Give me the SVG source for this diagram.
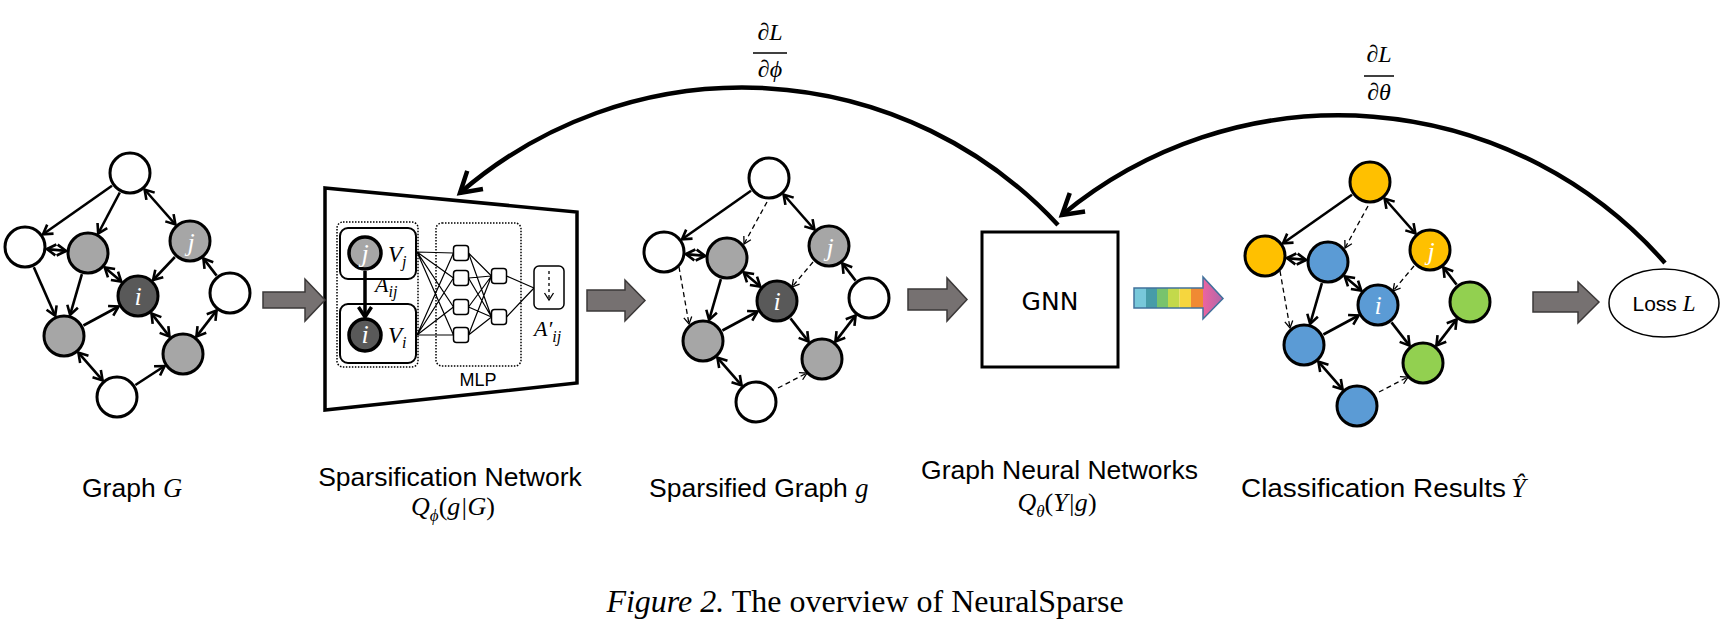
<svg xmlns="http://www.w3.org/2000/svg" width="1731" height="631" viewBox="0 0 1731 631">
<defs>
<style>
.n{stroke:#000;stroke-width:3}
.w{fill:#fff}.g{fill:#a6a6a6}.k{fill:#595959}.y{fill:#ffc000}.b{fill:#5b9bd5}.gr{fill:#92d050}
.e{stroke:#000;stroke-width:2.6;fill:none;marker-end:url(#ah)}
.e2{stroke:#000;stroke-width:2.6;fill:none;marker-start:url(#ah);marker-end:url(#ah)}
.d{stroke:#000;stroke-width:1.3;fill:none;stroke-dasharray:5 3.5;marker-end:url(#ahd)}
.lbl{font-family:"Liberation Serif","DejaVu Serif",serif;font-style:italic;fill:#fff;font-size:26px;text-anchor:middle}
.mi{font-family:"Liberation Serif","DejaVu Serif",serif;font-style:italic}
.sans{font-family:"Liberation Sans",Arial,sans-serif}
.ba{fill:#767171;stroke:#3b3838;stroke-width:1.5}
.ml{stroke:#000;stroke-width:1.2;fill:none}
.sq{fill:#fff;stroke:#000;stroke-width:1.5}
</style>
<marker id="ah" markerUnits="userSpaceOnUse" viewBox="-13 -9 16 18" markerWidth="16" markerHeight="18" refX="0" refY="0" orient="auto-start-reverse">
<path d="M-9,-5.5 L0,0 L-9,5.5" fill="none" stroke="#000" stroke-width="2.6"/>
</marker>
<marker id="ahd" markerUnits="userSpaceOnUse" viewBox="-10 -7 12 14" markerWidth="12" markerHeight="14" refX="0" refY="0" orient="auto">
<path d="M-7,-4 L0,0 L-7,4" fill="none" stroke="#000" stroke-width="1.3"/>
</marker>
<marker id="ahb" markerUnits="userSpaceOnUse" viewBox="-26 -17 31 34" markerWidth="31" markerHeight="34" refX="0" refY="0" orient="auto">
<path d="M-20,-12 L0,0 L-20,12" fill="none" stroke="#000" stroke-width="4.5"/>
</marker>
<marker id="ahs" markerUnits="userSpaceOnUse" viewBox="-10 -7 12 14" markerWidth="12" markerHeight="14" refX="0" refY="0" orient="auto">
<path d="M-7,-4.5 L0,0 L-7,4.5" fill="none" stroke="#000" stroke-width="1.3"/>
</marker>
<marker id="ahm" markerUnits="userSpaceOnUse" viewBox="-14 -9 17 18" markerWidth="17" markerHeight="18" refX="0" refY="0" orient="auto">
<path d="M-10,-6.5 L0,0 L-10,6.5" fill="none" stroke="#000" stroke-width="3.5"/>
</marker>
<linearGradient id="headGrad" x1="0" y1="0" x2="1" y2="0">
<stop offset="0" stop-color="#ec64a0"/><stop offset="1" stop-color="#b066aa"/>
</linearGradient>
</defs>
<rect width="1731" height="631" fill="#fff"/>

<!-- ===== Graph G ===== -->
<g id="graphG">
<g id="G-edges">
<path class="e" d="M112,185.7 L43,234.3"/>
<path class="e" d="M119.8,192.5 L98.2,233.5"/>
<path class="e2" d="M144.6,189.5 L175.4,224.5"/>
<path class="e2" d="M46.9,249.1 L66.1,250.9"/>
<path class="e" d="M33.8,267.2 L55.2,315.8"/>
<path class="e" d="M81.9,274.1 L70.1,314.9"/>
<path class="e2" d="M104.7,267.4 L121.3,281.6"/>
<path class="e" d="M174.9,257 L153.1,280"/>
<path class="e" d="M216.6,275.6 L203.4,258.4"/>
<path class="e2" d="M216.6,310.4 L196.4,336.6"/>
<path class="e2" d="M151.5,313.4 L169.5,336.6"/>
<path class="e" d="M83.4,325.5 L118.6,306.5"/>
<path class="e2" d="M78.4,352.6 L102.6,380.4"/>
<path class="e" d="M135.4,385 L164.6,366"/>
</g>
<g id="G-top"><circle class="n w" cx="130" cy="173" r="20"/></g>
<g id="G-left"><circle class="n w" cx="25" cy="247" r="20"/></g>
<g id="G-ul"><circle class="n g" cx="88" cy="253" r="20"/></g>
<g id="G-j"><circle class="n g" cx="190" cy="241" r="20"/><text class="lbl" x="191" y="251">j</text></g>
<g id="G-i"><circle class="n k" cx="138" cy="296" r="20"/><text class="lbl" x="138" y="305">i</text></g>
<g id="G-right"><circle class="n w" cx="230" cy="293" r="20"/></g>
<g id="G-ll"><circle class="n g" cx="64" cy="336" r="20"/></g>
<g id="G-lr"><circle class="n g" cx="183" cy="354" r="20"/></g>
<g id="G-bottom"><circle class="n w" cx="117" cy="397" r="20"/></g>
</g>

<!-- ===== Sparsification network ===== -->
<g id="sparsifier">
<polygon points="325,188 577,212 577,383 325,410" fill="#fff" stroke="#000" stroke-width="3.5"/>
<rect x="337" y="222" width="81" height="145" rx="6" fill="none" stroke="#000" stroke-width="1.5" stroke-dasharray="1.5 1.5"/>
<rect x="436" y="223" width="85" height="143" rx="6" fill="none" stroke="#000" stroke-width="1.5" stroke-dasharray="1.5 1.5"/>
<g id="S-vj">
<rect x="340" y="228" width="76" height="51" rx="8" fill="#fff" stroke="#000" stroke-width="2"/>
<circle cx="365" cy="253" r="16" fill="#a6a6a6" stroke="#000" stroke-width="3.5"/>
<text class="lbl" x="365" y="262" font-size="24">j</text>
<text class="mi" x="388" y="262" font-size="23">V<tspan font-size="16" dy="5">j</tspan></text>
</g>
<g id="S-vi">
<rect x="340" y="304" width="76" height="59" rx="8" fill="#fff" stroke="#000" stroke-width="2"/>
<circle cx="365" cy="335" r="16" fill="#595959" stroke="#000" stroke-width="3.5"/>
<text class="lbl" x="365" y="343" font-size="24">i</text>
<text class="mi" x="388" y="343" font-size="23">V<tspan font-size="16" dy="5">i</tspan></text>
</g>
<path d="M365,271 L365,317" stroke="#000" stroke-width="3.5" fill="none" marker-end="url(#ahm)"/>
<text class="mi" x="375" y="292" font-size="22">A<tspan font-size="16" dy="5">ij</tspan></text>
<g id="S-mlp-lines">
<path class="ml" d="M417,252 L453.5,253 M417,252 L453.5,278 M417,252 L453.5,307 M417,252 L453.5,335 M417,335 L453.5,253 M417,335 L453.5,278 M417,335 L453.5,307 M417,335 L453.5,335"/>
<path class="ml" d="M468.5,253 L491.5,276 M468.5,253 L491.5,317 M468.5,278 L491.5,276 M468.5,278 L491.5,317 M468.5,307 L491.5,276 M468.5,307 L491.5,317 M468.5,335 L491.5,276 M468.5,335 L491.5,317"/>
<path class="ml" d="M506.5,276 L534,288 M506.5,317 L534,288"/>
</g>
<g id="S-mlp-units">
<rect class="sq" x="453.5" y="245.5" width="15" height="15" rx="3"/>
<rect class="sq" x="453.5" y="270.5" width="15" height="15" rx="3"/>
<rect class="sq" x="453.5" y="299.5" width="15" height="15" rx="3"/>
<rect class="sq" x="453.5" y="327.5" width="15" height="15" rx="3"/>
<rect class="sq" x="491.5" y="268.5" width="15" height="15" rx="3"/>
<rect class="sq" x="491.5" y="309.5" width="15" height="15" rx="3"/>
</g>
<g id="S-out">
<rect x="534" y="266" width="30" height="43" rx="5" fill="#fff" stroke="#000" stroke-width="1.5"/>
<path d="M549,271 L549,300" stroke="#000" stroke-width="1.3" stroke-dasharray="3 3" fill="none" marker-end="url(#ahs)"/>
</g>
<text class="mi" x="534" y="336" font-size="22">A′<tspan font-size="16" dy="6">ij</tspan></text>
<text class="sans" x="478" y="386" font-size="18" text-anchor="middle">MLP</text>
</g>

<!-- ===== Sparsified graph ===== -->
<g id="graphS" transform="translate(639,5)">
<g id="S2-edges">
<path class="e" d="M112,185.7 L43,234.3"/>
<path class="d" d="M128,197 L105,239"/>
<path class="e2" d="M144.6,189.5 L175.4,224.5"/>
<path class="e2" d="M46.9,249.1 L66.1,250.9"/>
<path class="d" d="M40,262 L50,319"/>
<path class="e" d="M81.9,274.1 L70.1,314.9"/>
<path class="e2" d="M104.7,267.4 L121.3,281.6"/>
<path class="d" d="M174,257 L153,282"/>
<path class="e" d="M216.6,275.6 L203.4,258.4"/>
<path class="e2" d="M216.6,310.4 L196.4,336.6"/>
<path class="e" d="M151.5,313.4 L169.5,336.6"/>
<path class="e" d="M83.4,325.5 L118.6,306.5"/>
<path class="e2" d="M78.4,352.6 L102.6,380.4"/>
<path class="d" d="M139,383 L168,368"/>
</g>
<g id="S2-top"><circle class="n w" cx="130" cy="173" r="20"/></g>
<g id="S2-left"><circle class="n w" cx="25" cy="247" r="20"/></g>
<g id="S2-ul"><circle class="n g" cx="88" cy="253" r="20"/></g>
<g id="S2-j"><circle class="n g" cx="190" cy="241" r="20"/><text class="lbl" x="191" y="251">j</text></g>
<g id="S2-i"><circle class="n k" cx="138" cy="296" r="20"/><text class="lbl" x="138" y="305">i</text></g>
<g id="S2-right"><circle class="n w" cx="230" cy="293" r="20"/></g>
<g id="S2-ll"><circle class="n g" cx="64" cy="336" r="20"/></g>
<g id="S2-lr"><circle class="n g" cx="183" cy="354" r="20"/></g>
<g id="S2-bottom"><circle class="n w" cx="117" cy="397" r="20"/></g>
</g>

<!-- ===== GNN ===== -->
<g id="gnn">
<rect x="982" y="232" width="136" height="135" fill="#fff" stroke="#000" stroke-width="3"/>
<text x="1050" y="310" font-family="DejaVu Sans,sans-serif" font-size="25" text-anchor="middle">GNN</text>
</g>

<!-- ===== Classification results ===== -->
<g id="graphC" transform="translate(1240,9)">
<g id="C-edges">
<path class="e" d="M112,185.7 L43,234.3"/>
<path class="d" d="M128,197 L105,239"/>
<path class="e2" d="M144.6,189.5 L175.4,224.5"/>
<path class="e2" d="M46.9,249.1 L66.1,250.9"/>
<path class="d" d="M40,262 L50,319"/>
<path class="e" d="M81.9,274.1 L70.1,314.9"/>
<path class="e2" d="M104.7,267.4 L121.3,281.6"/>
<path class="d" d="M174,257 L153,282"/>
<path class="e" d="M216.6,275.6 L203.4,258.4"/>
<path class="e2" d="M216.6,310.4 L196.4,336.6"/>
<path class="e" d="M151.5,313.4 L169.5,336.6"/>
<path class="e" d="M83.4,325.5 L118.6,306.5"/>
<path class="e2" d="M78.4,352.6 L102.6,380.4"/>
<path class="d" d="M139,383 L168,368"/>
</g>
<g id="C-top"><circle class="n y" cx="130" cy="173" r="20"/></g>
<g id="C-left"><circle class="n y" cx="25" cy="247" r="20"/></g>
<g id="C-ul"><circle class="n b" cx="88" cy="253" r="20"/></g>
<g id="C-j"><circle class="n y" cx="190" cy="241" r="20"/><text class="lbl" x="191" y="251">j</text></g>
<g id="C-i"><circle class="n b" cx="138" cy="296" r="20"/><text class="lbl" x="138" y="305">i</text></g>
<g id="C-right"><circle class="n gr" cx="230" cy="293" r="20"/></g>
<g id="C-ll"><circle class="n b" cx="64" cy="336" r="20"/></g>
<g id="C-lr"><circle class="n gr" cx="183" cy="354" r="20"/></g>
<g id="C-bottom"><circle class="n b" cx="117" cy="397" r="20"/></g>
</g>

<!-- ===== Loss ===== -->
<g id="loss">
<ellipse cx="1664" cy="303" rx="55" ry="34" fill="#fff" stroke="#000" stroke-width="1.5"/>
<text x="1664" y="311" font-size="21" text-anchor="middle" class="sans">Loss <tspan class="mi" font-size="23">L</tspan></text>
</g>

<!-- ===== Connectors ===== -->
<g id="connectors">
<polygon class="ba" points="263,292 305,292 305,279 325,300 305,321 305,308 263,308"/>
<polygon class="ba" points="587,290 625,290 625,280 645,300.5 625,321 625,311 587,311"/>
<polygon class="ba" points="908,289 947,289 947,278 967,299.5 947,321 947,310 908,310"/>
<polygon class="ba" points="1533,292 1578,292 1578,282 1599,302 1578,323 1578,312 1533,312"/>
<g id="rainbow-arrow">
<rect x="1134" y="288" width="12" height="20" fill="#78c8da"/>
<rect x="1146" y="288" width="11" height="20" fill="#479ca8"/>
<rect x="1157" y="288" width="11" height="20" fill="#78c36d"/>
<rect x="1168" y="288" width="11.5" height="20" fill="#c3d94b"/>
<rect x="1179.5" y="288" width="11.5" height="20" fill="#f6d63e"/>
<rect x="1191" y="288" width="12" height="20" fill="#f08a33"/>
<polygon points="1203,277 1223,298.5 1203,319" fill="url(#headGrad)"/>
<polygon points="1134,288 1203,288 1203,277 1223,298.5 1203,319 1203,308 1134,308" fill="none" stroke="#41719c" stroke-width="1.5"/>
</g>
<path d="M1058,225 A431,431 0 0 0 460,193" fill="none" stroke="#000" stroke-width="4.5" marker-end="url(#ahb)"/>
<path d="M1665,263 A434,434 0 0 0 1062,215" fill="none" stroke="#000" stroke-width="4.5" marker-end="url(#ahb)"/>
</g>

<!-- gradient labels -->
<g id="dphi" class="mi" font-size="24" text-anchor="middle">
<text x="770" y="40">∂L</text>
<line x1="753" y1="53" x2="787" y2="53" stroke="#000" stroke-width="1.5"/>
<text x="770" y="77">∂ϕ</text>
</g>
<g id="dtheta" class="mi" font-size="24" text-anchor="middle">
<text x="1379" y="62">∂L</text>
<line x1="1364" y1="76" x2="1394" y2="76" stroke="#000" stroke-width="1.5"/>
<text x="1379" y="100">∂θ</text>
</g>

<!-- captions -->
<g id="labels" class="sans" font-size="26.5">
<text x="82" y="497">Graph <tspan class="mi">G</tspan></text>
<text x="450" y="486" text-anchor="middle">Sparsification Network</text>
<text x="453" y="515" text-anchor="middle" class="mi" font-size="26">Q<tspan font-size="17" dy="6">ϕ</tspan><tspan dy="-6" font-style="normal">(</tspan>g|G<tspan font-style="normal">)</tspan></text>
<text x="649" y="497">Sparsified Graph <tspan class="mi">g</tspan></text>
<text x="1059.5" y="479" text-anchor="middle">Graph Neural Networks</text>
<text x="1057" y="511" text-anchor="middle" class="mi" font-size="26">Q<tspan font-size="17" dy="6">θ</tspan><tspan dy="-6" font-style="normal">(</tspan>Y|g<tspan font-style="normal">)</tspan></text>
<text x="1241" y="497" textLength="265" lengthAdjust="spacingAndGlyphs">Classification Results</text>
<text x="1511" y="497" class="mi">Ŷ</text>
</g>
<text x="865" y="612" font-family="Liberation Serif,serif" font-size="32" text-anchor="middle"><tspan font-style="italic">Figure 2.</tspan> The overview of NeuralSparse</text>
</svg>
